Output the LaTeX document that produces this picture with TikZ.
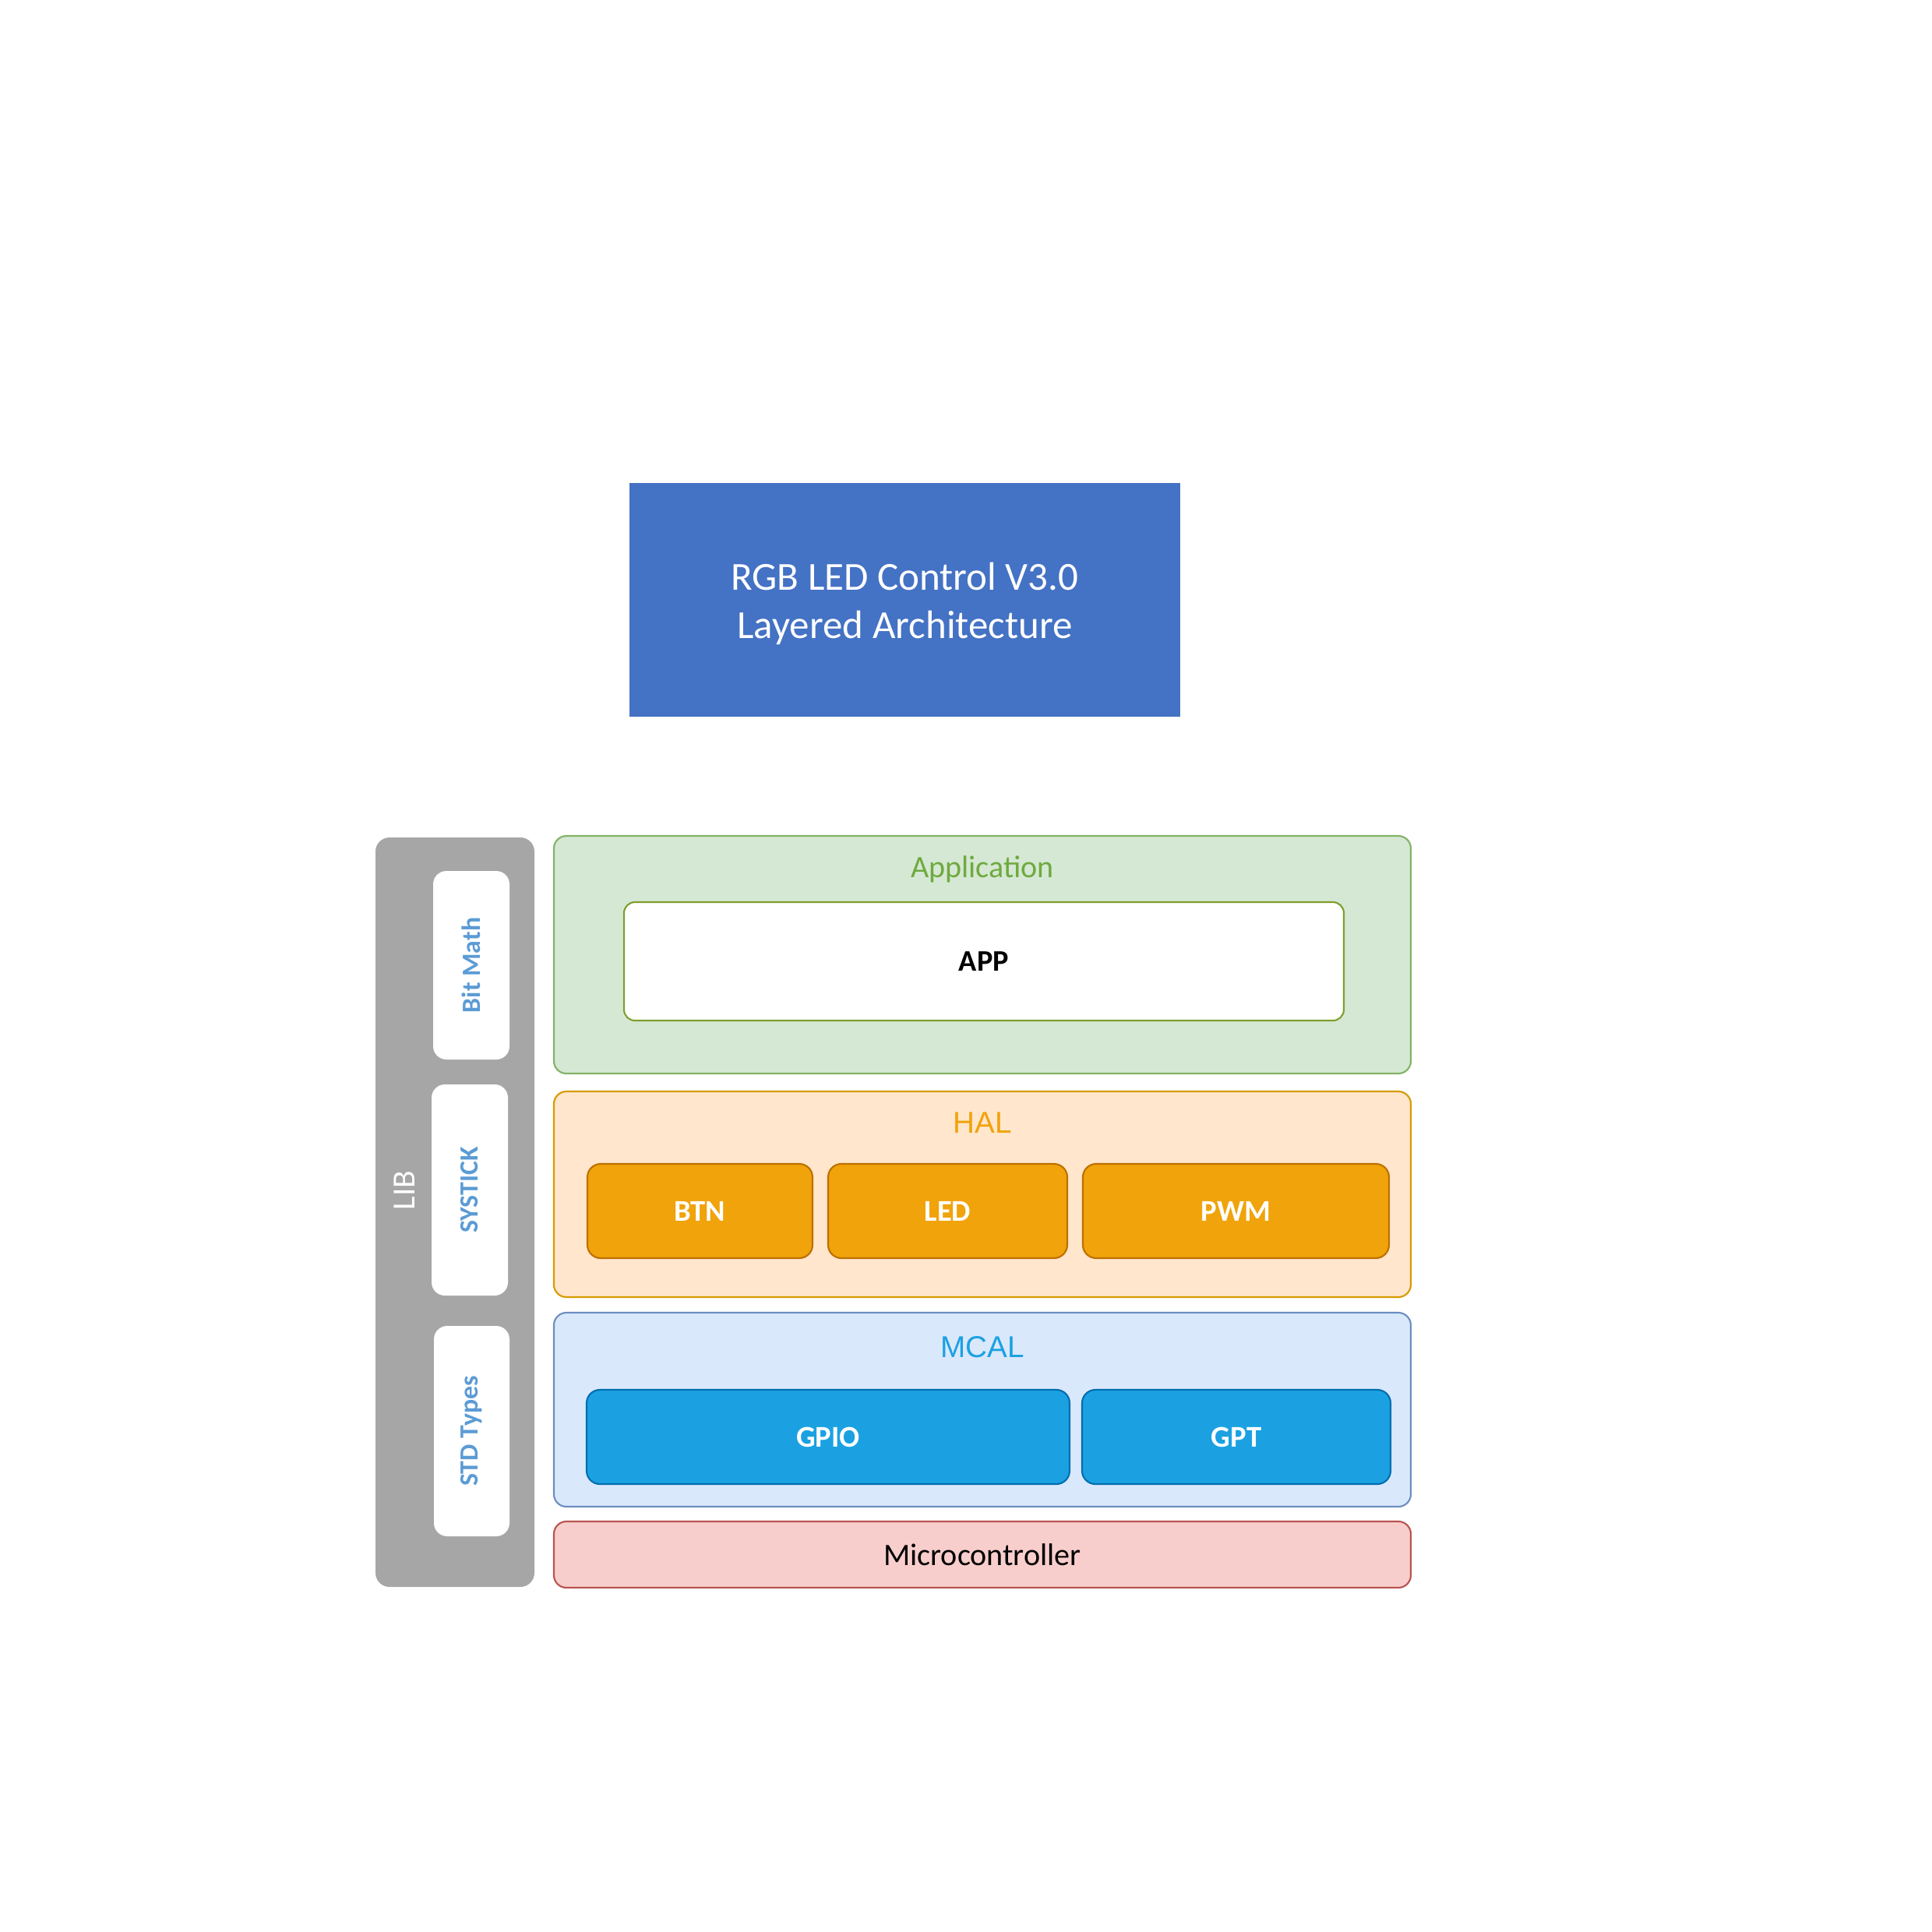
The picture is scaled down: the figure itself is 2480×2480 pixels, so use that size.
\documentclass[tikz,border=0pt]{standalone}
\usepackage{fontspec}
\setmainfont{Carlito}
\newfontfamily\arialf{Liberation Sans}
\definecolor{titleblue}{HTML}{4472C4}
\definecolor{libgray}{HTML}{A6A6A6}
\definecolor{libtext}{HTML}{5B9BD5}
\definecolor{appfill}{HTML}{D5E8D4}
\definecolor{appstroke}{HTML}{82B366}
\definecolor{applabel}{HTML}{6FAA3F}
\definecolor{appinner}{HTML}{7F9F2F}
\definecolor{halfill}{HTML}{FFE6CC}
\definecolor{halstroke}{HTML}{D79B00}
\definecolor{hallabel}{HTML}{F0A30A}
\definecolor{halbox}{HTML}{F0A30A}
\definecolor{halboxstroke}{HTML}{BD7000}
\definecolor{mcalfill}{HTML}{DAE8FC}
\definecolor{mcalstroke}{HTML}{6C8EBF}
\definecolor{mcallabel}{HTML}{1BA1E2}
\definecolor{mcalbox}{HTML}{1BA1E2}
\definecolor{mcalboxstroke}{HTML}{006EAF}
\definecolor{mcufill}{HTML}{F8CECC}
\definecolor{mcustroke}{HTML}{B85450}
\begin{document}
\begin{tikzpicture}[x=0.01cm,y=-0.01cm,
  box/.style={rectangle,inner sep=0pt,line width=0.6pt},
  layer/.style={box,rounded corners=0.16cm},
  module/.style={box,rounded corners=0.17cm,font=\fontsize{11pt}{13pt}\selectfont\bfseries,text=white},
  libitem/.style={box,fill=white,rounded corners=0.17cm,rotate=90,font=\fontsize{9.6pt}{12pt}\selectfont\bfseries,text=libtext},
  layerlabel/.style={inner sep=0pt,anchor=base,font=\fontsize{11pt}{13pt}\selectfont}
]
\useasboundingbox (0,0) rectangle (2480,2480);
% title
\node[box,fill=titleblue,minimum width=0.01cm*707,minimum height=0.01cm*300] (title) at (1161.5,770) {};
\node[inner sep=0pt,text=white,align=center,font=\fontsize{14.5pt}{17.6pt}\selectfont] (titletext) at (1161.5,775)
  {RGB LED Control V3.0\\Layered Architecture};
% LIB
\node[box,fill=libgray,rounded corners=0.18cm,minimum width=0.01cm*204,minimum height=0.01cm*962] (lib) at (584,1556) {};
\node[inner sep=0pt,rotate=90,text=white,font=\fontsize{11.8pt}{13pt}\selectfont] (libl) at (519,1528) {LIB};
\node[libitem,minimum width=0.01cm*242,minimum height=0.01cm*98] (bitmath) at (605,1239) {Bit Math};
\node[libitem,minimum width=0.01cm*271,minimum height=0.01cm*98] (systick) at (603,1527.5) {SYSTICK};
\node[libitem,minimum width=0.01cm*270,minimum height=0.01cm*97] (stdtypes) at (605.5,1837) {STD Types};
% Application
\node[layer,fill=appfill,draw=appstroke,minimum width=0.01cm*1100,minimum height=0.01cm*305] (application) at (1261,1225.5) {};
\node[layerlabel,text=applabel,font=\fontsize{11.4pt}{13pt}\selectfont] (applicationl) at (1261,1126) {Application};
\node[box,fill=white,draw=appinner,rounded corners=0.14cm,minimum width=0.01cm*924,minimum height=0.01cm*152,
  font=\fontsize{10.9pt}{12pt}\selectfont\bfseries] (app) at (1263,1234) {APP};
% HAL
\node[layer,fill=halfill,draw=halstroke,minimum width=0.01cm*1100,minimum height=0.01cm*264] (hal) at (1261,1533) {};
\node[layerlabel,text=hallabel,font=\fontsize{11pt}{13pt}\selectfont\arialf] (hall) at (1261,1454) {HAL};
\node[module,fill=halbox,draw=halboxstroke,minimum width=0.01cm*289,minimum height=0.01cm*121] (btn) at (898.5,1554.5) {BTN};
\node[module,fill=halbox,draw=halboxstroke,minimum width=0.01cm*307,minimum height=0.01cm*121] (led) at (1216.5,1554.5) {LED};
\node[module,fill=halbox,draw=halboxstroke,minimum width=0.01cm*393,minimum height=0.01cm*121] (pwm) at (1586.5,1554.5) {PWM};
% MCAL
\node[layer,fill=mcalfill,draw=mcalstroke,minimum width=0.01cm*1100,minimum height=0.01cm*249] (mcal) at (1261,1809.5) {};
\node[layerlabel,text=mcallabel,font=\fontsize{11pt}{13pt}\selectfont\arialf] (mcall) at (1261,1742) {MCAL};
\node[module,fill=mcalbox,draw=mcalboxstroke,minimum width=0.01cm*620,minimum height=0.01cm*121] (gpio) at (1063,1844.5) {GPIO};
\node[module,fill=mcalbox,draw=mcalboxstroke,minimum width=0.01cm*396,minimum height=0.01cm*121] (gpt) at (1587,1844.5) {GPT};
% Microcontroller
\node[layer,fill=mcufill,draw=mcustroke,minimum width=0.01cm*1100,minimum height=0.01cm*85,
  font=\fontsize{11.4pt}{13pt}\selectfont] (mcu) at (1261,1995.5) {Microcontroller};
\end{tikzpicture}
\end{document}
